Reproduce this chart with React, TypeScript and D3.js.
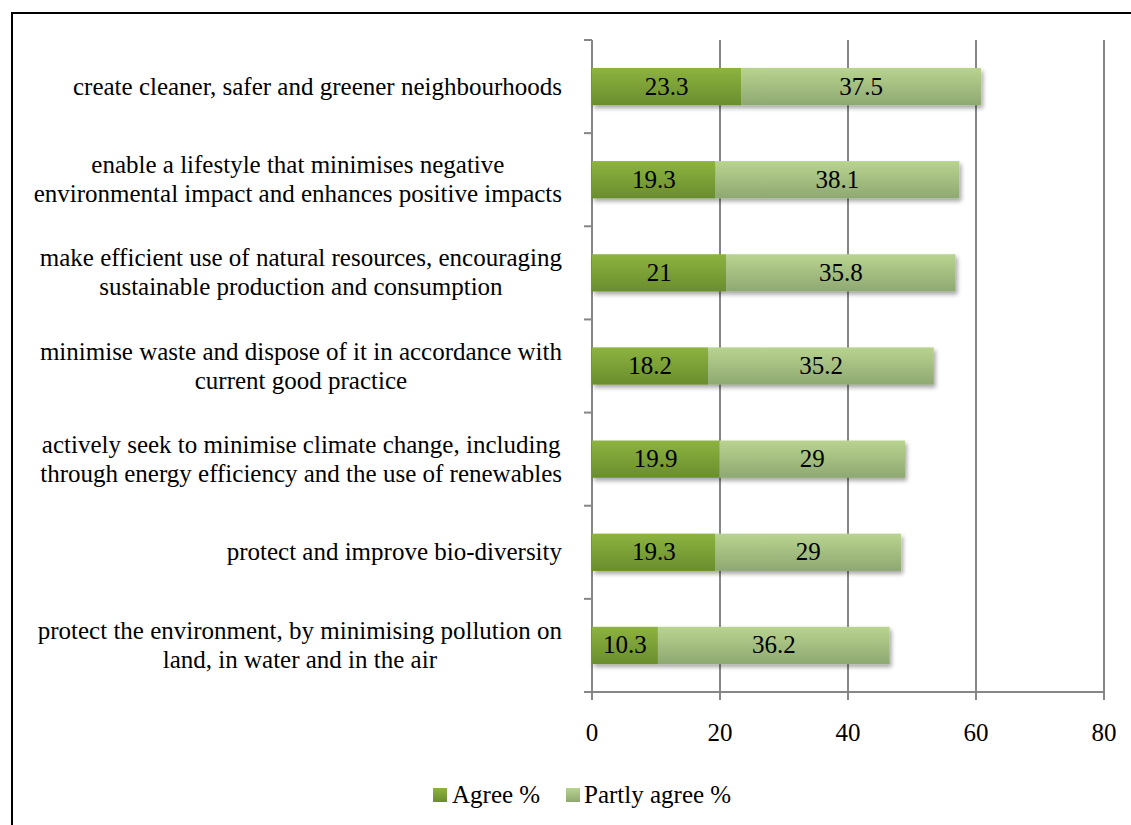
import React from "react";
import * as d3 from "d3";

const categories: string[][] = [
  ["create cleaner, safer and greener neighbourhoods"],
  ["enable a lifestyle that minimises negative", "environmental impact and enhances positive impacts"],
  ["make efficient use of natural resources, encouraging", "sustainable production and consumption"],
  ["minimise waste and dispose of it in accordance with", "current good practice"],
  ["actively seek to minimise climate change, including", "through energy efficiency and the use of renewables"],
  ["protect and improve bio-diversity"],
  ["protect the environment, by minimising pollution on", "land, in water and in the air"],
];
const agree: number[] = [23.3, 19.3, 21, 18.2, 19.9, 19.3, 10.3];
const partlyAgree: number[] = [37.5, 38.1, 35.8, 35.2, 29, 29, 36.2];
const xTicks: number[] = [0, 20, 40, 60, 80];
const seriesNames: string[] = ["Agree %", "Partly agree %"];

const W = 1131;
const H = 825;
const left = 592;
const right = 1104;
const top = 40;
const bottom = 692;
const font = "Liberation Serif";
const fs = 25;
const axisColor = "#868686";
const labelRight = 562;

function measure(s: string): number {
  const c = document.createElement("canvas").getContext("2d");
  if (!c) return s.length * fs * 0.42;
  c.font = `${fs}px "Liberation Serif"`;
  return c.measureText(s).width;
}

export default function App() {
  const x = d3.scaleLinear().domain([0, 80]).range([left, right]);
  const y = d3
    .scaleBand<number>()
    .domain(d3.range(categories.length))
    .range([top, bottom])
    .paddingInner(0.6)
    .paddingOuter(0.3);
  const bandStep = (bottom - top) / categories.length;
  const bw = y.bandwidth();
  const txt = { fontFamily: font, fontSize: fs, fill: "#000" } as const;

  return (
    <svg width={W} height={H} style={{ position: "absolute", left: 0, top: 0, background: "#fff" }}>
      <defs>
        <linearGradient id="gAgree" x1="0" y1="0" x2="0" y2="1">
          <stop offset="0" stopColor="#8db33f" />
          <stop offset="1" stopColor="#6a8d2e" />
        </linearGradient>
        <linearGradient id="gPartly" x1="0" y1="0" x2="0" y2="1">
          <stop offset="0" stopColor="#b9d48f" />
          <stop offset="1" stopColor="#8ea872" />
        </linearGradient>
        <filter id="shadow" x="-5%" y="-30%" width="110%" height="180%">
          <feDropShadow dx="2" dy="3" stdDeviation="2" floodColor="#000" floodOpacity="0.35" />
        </filter>
      </defs>

      {/* frame */}
      <rect x={12} y={13} width={W + 20} height={H + 20} fill="none" stroke="#000" strokeWidth={2} />

      {/* vertical gridlines */}
      {xTicks.slice(1).map((t) => (
        <line key={t} x1={x(t)} x2={x(t)} y1={top} y2={bottom} stroke={axisColor} strokeWidth={2} />
      ))}

      {/* category axis */}
      <line x1={left} x2={left} y1={top} y2={bottom} stroke={axisColor} strokeWidth={2} />
      {d3.range(categories.length + 1).map((i) => (
        <line key={i} x1={left - 8} x2={left} y1={top + i * bandStep} y2={top + i * bandStep} stroke={axisColor} strokeWidth={2} />
      ))}

      {/* value axis */}
      <line x1={left - 8} x2={right} y1={bottom} y2={bottom} stroke={axisColor} strokeWidth={2} />
      {xTicks.map((t) => (
        <g key={t}>
          <line x1={x(t)} x2={x(t)} y1={bottom} y2={bottom + 8} stroke={axisColor} strokeWidth={2} />
          <text x={x(t)} y={741} textAnchor="middle" style={txt}>
            {t}
          </text>
        </g>
      ))}

      {/* bars */}
      {categories.map((_, i) => {
        const y0 = y(i)!;
        const a = agree[i];
        const p = partlyAgree[i];
        return (
          <g key={i}>
            <g filter="url(#shadow)">
              <rect x={x(0)} y={y0} width={x(a) - x(0)} height={bw} fill="url(#gAgree)" />
              <rect x={x(a)} y={y0} width={x(a + p) - x(a)} height={bw} fill="url(#gPartly)" />
            </g>
            <text x={(x(0) + x(a)) / 2} y={y0 + bw / 2 + 8} textAnchor="middle" style={txt}>
              {a}
            </text>
            <text x={(x(a) + x(a + p)) / 2} y={y0 + bw / 2 + 8} textAnchor="middle" style={txt}>
              {p}
            </text>
          </g>
        );
      })}

      {/* category labels: centred lines, block aligned to the axis side */}
      {categories.map((lines, i) => {
        const cy = y(i)! + bw / 2;
        const lh = 29;
        const startY = cy - ((lines.length - 1) * lh) / 2 + 8;
        const maxW = Math.max(...lines.map(measure));
        const cx = labelRight - maxW / 2;
        return (
          <text key={i} textAnchor="middle" style={txt}>
            {lines.map((ln, j) => (
              <tspan key={j} x={cx} y={startY + j * lh}>
                {ln}
              </tspan>
            ))}
          </text>
        );
      })}

      {/* legend */}
      <g>
        <rect x={433} y={788} width={14} height={14} fill="url(#gAgree)" />
        <text x={452} y={803} style={txt}>
          {seriesNames[0]}
        </text>
        <rect x={566} y={788} width={14} height={14} fill="url(#gPartly)" />
        <text x={584} y={803} style={txt}>
          {seriesNames[1]}
        </text>
      </g>
    </svg>
  );
}
